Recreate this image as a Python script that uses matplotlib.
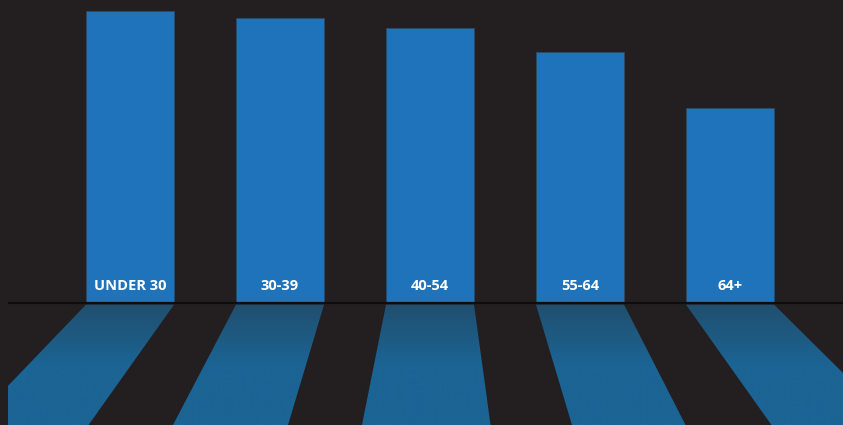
import numpy as np
import matplotlib
matplotlib.use("Agg")
import matplotlib.pyplot as plt
from matplotlib.patches import Polygon, Rectangle
from matplotlib.colors import LinearSegmentedColormap

# Age groups and their bar values
categories = ["UNDER 30", "30-39", "40-54", "55-64", "64+"]
values = [73.0, 71.3, 68.8, 62.8, 48.8]

BG = "#231f20"
BAR = "#1e73bb"
SHADOW_TOP = "#214f6e"
SHADOW_BOTTOM = "#1b6494"

# Horizontal spread of each floor reflection at the bottom edge,
# relative to the bar's left/right edges (in category units)
FLOOR_LEFT = [-0.77, -0.42, -0.16, 0.24, 0.57]
FLOOR_RIGHT = [-0.57, -0.24, 0.11, 0.41, 0.81]

W, H, DPI = 843, 425, 100
fig = plt.figure(figsize=(W / DPI, H / DPI), dpi=DPI, facecolor=BG)
ax = fig.add_axes([0, 0, 1, 1], facecolor=BG)

x = np.arange(len(categories))
bar_w = 0.587
x_lo, x_hi = -0.8667, 4.7533
y_lo, y_hi = -30.5, 75.75
x_margin = x_lo + 8 / 150.0

ax.bar(x, values, width=bar_w, color=BAR, edgecolor="#2f4a63",
       linewidth=0.6, zorder=3)

# Floor reflections: gradient fill clipped to a trapezoid under each bar
cmap = LinearSegmentedColormap.from_list(
    "floor", [(0.0, SHADOW_BOTTOM), (0.5, SHADOW_BOTTOM), (1.0, SHADOW_TOP)])
grad = np.linspace(0, 1, 256).reshape(-1, 1)
y_top = -0.4
for xi, dl, dr in zip(x, FLOOR_LEFT, FLOOR_RIGHT):
    l, r = xi - bar_w / 2, xi + bar_w / 2
    poly = Polygon([(l, y_top), (r, y_top), (r + dr, y_lo), (l + dl, y_lo)],
                   closed=True, facecolor="none", edgecolor="none")
    ax.add_patch(poly)
    im = ax.imshow(grad, cmap=cmap, aspect="auto", origin="lower",
                   extent=(x_lo, x_hi, y_lo, y_top), zorder=1,
                   interpolation="bilinear")
    im.set_clip_path(poly)

# Left margin of the canvas
ax.add_patch(Rectangle((x_lo, y_lo), x_margin - x_lo, y_hi - y_lo,
                       facecolor=BG, edgecolor="none", zorder=2))

# Baseline
ax.plot([x_margin, x_hi], [0, 0], color="#0d0d0d", linewidth=1.6, zorder=4,
        solid_capstyle="butt")

for xi, lab in zip(x, categories):
    ax.text(xi, 4.3, lab, color="white", ha="center", va="center",
            fontsize=10.5, fontweight="bold", family=["Open Sans", "DejaVu Sans"],
            zorder=5)

ax.set_xlim(x_lo, x_hi)
ax.set_ylim(y_lo, y_hi)
ax.axis("off")

fig.savefig("out.png", dpi=DPI, facecolor=BG)
